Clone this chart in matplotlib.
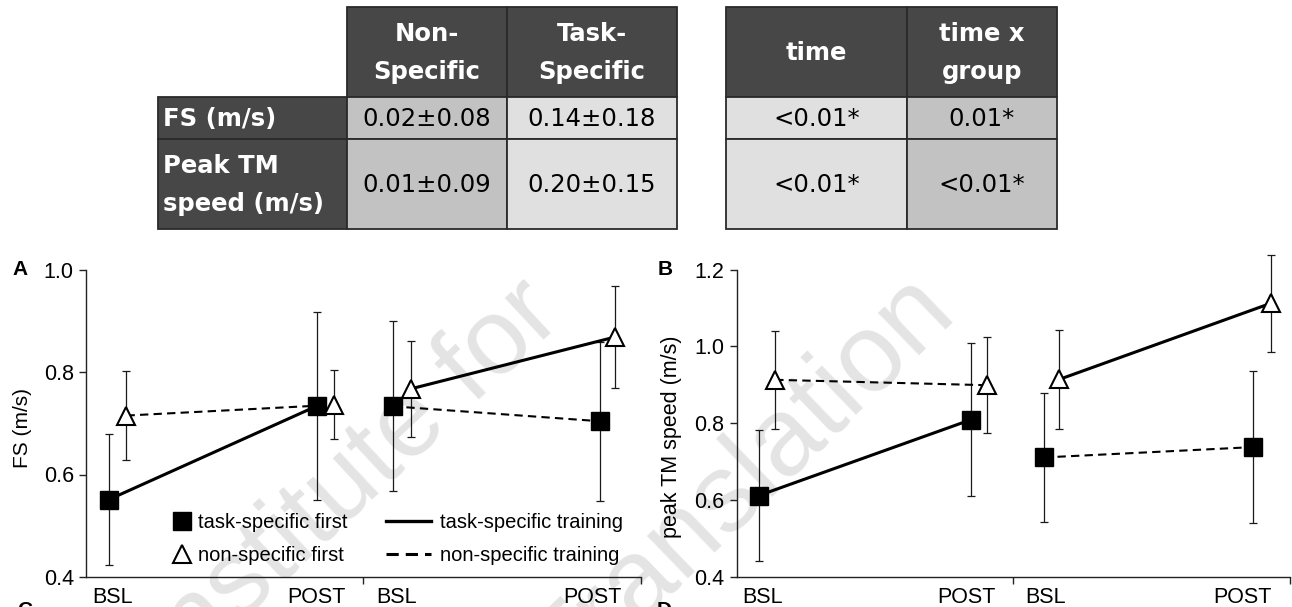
import matplotlib
matplotlib.use("Agg")
import matplotlib.pyplot as plt
from matplotlib.patches import Rectangle
from matplotlib.lines import Line2D

# ---------------- data ----------------
time_labels = ["BSL", "POST", "BSL", "POST"]

# panel A: FS (m/s)
fs_task_first = [0.551, 0.734, 0.733, 0.704]
fs_task_first_sd = [0.128, 0.183, 0.166, 0.155]
fs_non_first = [0.715, 0.736, 0.767, 0.868]
fs_non_first_sd = [0.086, 0.067, 0.093, 0.100]

# panel B: peak TM speed (m/s)
tm_task_first = [0.612, 0.809, 0.711, 0.738]
tm_task_first_sd = [0.170, 0.199, 0.169, 0.198]
tm_non_first = [0.913, 0.899, 0.914, 1.112]
tm_non_first_sd = [0.128, 0.125, 0.128, 0.127]

# tables
row_labels = ["FS (m/s)", "Peak TM\nspeed (m/s)"]
change_headers = ["Non-\nSpecific", "Task-\nSpecific"]
change_values = [["0.02±0.08", "0.14±0.18"], ["0.01±0.09", "0.20±0.15"]]
p_headers = ["time", "time x\ngroup"]
p_values = [["<0.01*", "0.01*"], ["<0.01*", "<0.01*"]]

legend_markers = ["task-specific first", "non-specific first"]
legend_lines = ["task-specific training", "non-specific training"]

# ---------------- layout ----------------
W, H = 1292, 607
plt.rcParams["font.family"] = ["Liberation Sans", "DejaVu Sans"]
fig = plt.figure(figsize=(W / 100, H / 100), dpi=100)


def fx(px):
    return px / W


def fy(py):
    return 1 - py / H


DASH = (0, (4, 2.5))
TAB_FONT = ["DejaVu Sans"]

# watermark (behind everything)
fig.text(fx(350), fy(482), "Institute for", rotation=43, rotation_mode="anchor",
         ha="center", va="center", fontsize=78, color="#e4e4e4", zorder=-5)
fig.text(fx(742), fy(484), "Translation", rotation=44, rotation_mode="anchor",
         ha="center", va="center", fontsize=80, color="#e4e4e4", zorder=-5)


def panel(rect, xs_sq, xs_tri, sq, sq_sd, tri, tri_sd, ylim, yticks, label_x):
    ax = fig.add_axes(rect)
    ax.set_facecolor("none")
    ek = dict(fmt="none", ecolor="#1a1a1a", elinewidth=0.9, capsize=3, capthick=0.9, zorder=2)
    for xs, ys, es in ((xs_sq, sq, sq_sd), (xs_tri, tri, tri_sd)):
        eb = ax.errorbar(xs, ys, yerr=es, **ek)
        for art in eb.lines[1] + eb.lines[2]:
            art.set_clip_on(False)
    # period 1: squares task-specific (solid), triangles non-specific (dashed)
    ax.plot(xs_sq[:2], sq[:2], "-", color="k", lw=2.2, zorder=3)
    ax.plot(xs_tri[:2], tri[:2], ls=DASH, color="k", lw=1.5, zorder=3)
    # period 2: crossover
    ax.plot(xs_sq[2:], sq[2:], ls=DASH, color="k", lw=1.5, zorder=3)
    ax.plot(xs_tri[2:], tri[2:], "-", color="k", lw=2.2, zorder=3)
    ax.plot(xs_sq, sq, ls="none", marker="s", ms=12.5, color="k", zorder=4, clip_on=False)
    ax.plot(xs_tri, tri, ls="none", marker="^", ms=12.5, mfc="white", mec="k", mew=1.5,
            zorder=4, clip_on=False)

    for s in ("top", "right"):
        ax.spines[s].set_visible(False)
    for s in ("left", "bottom"):
        ax.spines[s].set_linewidth(1.0)
        ax.spines[s].set_color("#222222")
    ax.set_xlim(0, 2)
    ax.set_ylim(*ylim)
    ax.set_yticks(yticks)
    ax.set_yticklabels([f"{v:.1f}" for v in yticks])
    ax.tick_params(axis="y", length=5, width=1, pad=4, labelsize=15.5, color="#222222")
    ax.set_xticks([1, 2])
    ax.set_xticklabels([])
    ax.tick_params(axis="x", which="major", length=5, width=1, color="#222222")
    ax.set_xticks(label_x, minor=True)
    ax.set_xticklabels(time_labels, minor=True)
    ax.tick_params(axis="x", which="minor", length=0, pad=7, labelsize=15.5)
    return ax


axA = panel([fx(86.3), fy(577), fx(640.6) - fx(86.3), fy(269.5) - fy(577)],
            [0.081, 0.833, 1.106, 1.852], [0.145, 0.895, 1.170, 1.906],
            fs_task_first, fs_task_first_sd, fs_non_first, fs_non_first_sd,
            (0.4, 1.0), [0.4, 0.6, 0.8, 1.0], [0.096, 0.830, 1.118, 1.826])

axB = panel([fx(736.5), fy(577), fx(1289.5) - fx(736.5), fy(269.5) - fy(577)],
            [0.081, 0.847, 1.112, 1.869], [0.140, 0.905, 1.167, 1.932],
            tm_task_first, tm_task_first_sd, tm_non_first, tm_non_first_sd,
            (0.4, 1.2), [0.4, 0.6, 0.8, 1.0, 1.2], [0.095, 0.833, 1.117, 1.830])

# y labels
fig.text(fx(22), fy(428), "FS (m/s)", rotation=90, ha="center", va="center", fontsize=15)
fig.text(fx(671), fy(437), "peak TM speed (m/s)", rotation=90, ha="center", va="center",
         fontsize=15.5)

# panel letters (C/D are cut off at the bottom edge, as in the source)
fig.text(fx(12), fy(270), "A", fontsize=15, fontweight="bold", ha="left", va="center")
fig.text(fx(658), fy(270), "B", fontsize=15, fontweight="bold", ha="left", va="center")
fig.text(fx(17), fy(601), "C", fontsize=15, fontweight="bold", ha="left", va="top")
fig.text(fx(657), fy(601), "D", fontsize=15, fontweight="bold", ha="left", va="top")

# legends
h_sq = Line2D([], [], ls="none", marker="s", ms=12.5, color="k")
h_tri = Line2D([], [], ls="none", marker="^", ms=12.5, mfc="white", mec="k", mew=1.5)
h_solid = Line2D([], [], ls="-", color="k", lw=2.4)
h_dash = Line2D([], [], ls=(0, (4, 2.3)), color="k", lw=2.2)
lk = dict(loc="upper left", bbox_transform=fig.transFigure, frameon=False, borderpad=0,
          borderaxespad=0, labelspacing=0.68, fontsize=14.5)
leg1 = axA.legend([h_sq, h_tri], legend_markers, bbox_to_anchor=(fx(172), fy(513)),
                  handlelength=1.0, handletextpad=0.3, **lk)
axA.add_artist(leg1)
axA.legend([h_solid, h_dash], legend_lines, bbox_to_anchor=(fx(386), fy(513)),
           handlelength=2.25, handletextpad=0.45, **lk)

# ---------------- tables ----------------
tab = fig.add_axes([0, 0, 1, 1], zorder=5)
tab.set_xlim(0, W)
tab.set_ylim(H, 0)
tab.axis("off")

DARK = "#474747"
LIGHT = "#e0e0e0"
MID = "#c2c2c2"
EDGE = "#2a2a2a"
rows_y = [7, 97, 139, 229]


def cell(x0, x1, y0, y1, fc, text="", bold=False, color="black", ha="center"):
    tab.add_patch(Rectangle((x0, y0), x1 - x0, y1 - y0, facecolor=fc, edgecolor=EDGE, lw=1.3))
    if text:
        tx = (x0 + x1) / 2 if ha == "center" else x0 + 5
        tab.text(tx, (y0 + y1) / 2 + 1, text, ha=ha, va="center", color=color,
                 fontsize=17.5, fontweight="bold" if bold else "normal",
                 family=TAB_FONT, linespacing=1.7,
                 multialignment="left" if ha == "left" else "center")


# table 1: change scores
c1 = [158, 347, 507, 677]
for j, hdr in enumerate(change_headers):
    cell(c1[j + 1], c1[j + 2], rows_y[0], rows_y[1], DARK, hdr, bold=True, color="white")
for i, rl in enumerate(row_labels):
    cell(c1[0], c1[1], rows_y[i + 1], rows_y[i + 2], DARK, rl, bold=True, color="white", ha="left")
    for j, v in enumerate(change_values[i]):
        cell(c1[j + 1], c1[j + 2], rows_y[i + 1], rows_y[i + 2], MID if j == 0 else LIGHT, v)

# table 2: p-values
c2 = [726, 907, 1057]
for j, hdr in enumerate(p_headers):
    cell(c2[j], c2[j + 1], rows_y[0], rows_y[1], DARK, hdr, bold=True, color="white")
for i in range(len(p_values)):
    for j, v in enumerate(p_values[i]):
        cell(c2[j], c2[j + 1], rows_y[i + 1], rows_y[i + 2], LIGHT if j == 0 else MID, v)

fig.savefig("out.png", dpi=100)
